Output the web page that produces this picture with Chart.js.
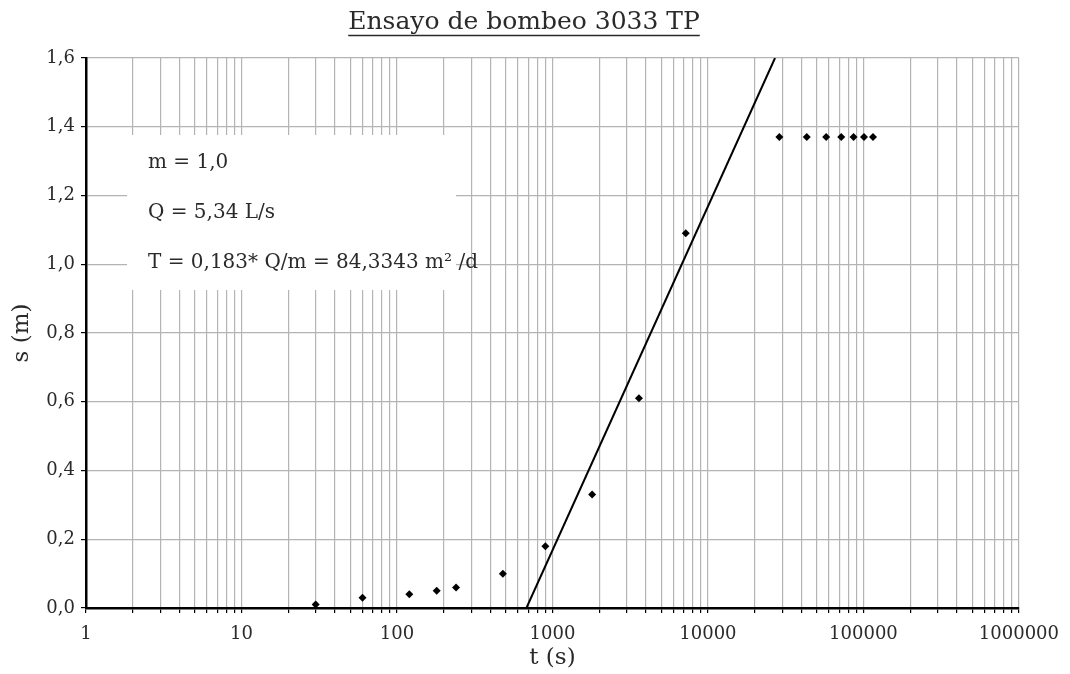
<!DOCTYPE html>
<html>
<head>
<meta charset="utf-8">
<script src="https://cdn.jsdelivr.net/npm/chart.js@4/dist/chart.umd.min.js"></script>
<style>
  body { margin: 0; background: #fff; }
  canvas { display: block; }
</style>
</head>
<body>
<canvas id="myChart" width="1070" height="674"></canvas>
<script>
// datos del ensayo (tiempo en s, descenso en m)
const tiempos = [30, 60, 120, 180, 240, 480, 900, 1800, 3600, 7200, 28800, 43200, 57600, 72000, 86400, 100800, 115200];
const descensos = [0.01, 0.03, 0.04, 0.05, 0.06, 0.10, 0.18, 0.33, 0.61, 1.09, 1.37, 1.37, 1.37, 1.37, 1.37, 1.37, 1.37];

// recta de ajuste (Jacob)
const rectaT = [680, 27000];
const rectaS = [0, 1.6];

// marcas del eje t: 1..9 por decada
const decadas = [1, 10, 100, 1000, 10000, 100000];
const multiplos = [1, 2, 3, 4, 5, 6, 7, 8, 9];
const etiquetasT = [1, 10, 100, 1000, 10000, 100000, 1000000];

const titulo = 'Ensayo de bombeo 3033 TP';
const notas = ['m = 1,0', 'Q = 5,34 L/s', 'T = 0,183* Q/m = 84,3343 m\u00B2 /d'];

const fuente = "'DejaVu Serif', 'Liberation Serif', serif";

var puntos = [];
for (var i = 0; i < tiempos.length; i++) {
  puntos.push({x: tiempos[i], y: descensos[i]});
}
var recta = [];
for (var j = 0; j < rectaT.length; j++) {
  recta.push({x: rectaT[j], y: rectaS[j]});
}
var marcasT = [];
decadas.forEach(function(d) {
  multiplos.forEach(function(m) { marcasT.push({value: d * m}); });
});
marcasT.push({value: 1000000});

// solo multiplos enteros de cada decada
function esMarca(v) {
  for (var k = 0; k < marcasT.length; k++) {
    if (Math.abs(marcasT[k].value - v) < 1e-6 * v) return true;
  }
  return false;
}

// titulo subrayado y cuadro de texto
const extras = {
  id: 'extras',
  beforeDatasetsDraw(chart) {
    const ctx = chart.ctx;
    const a = chart.chartArea;
    ctx.save();
    // cuadro blanco
    ctx.fillStyle = '#fff';
    ctx.fillRect(a.left + 41, a.top + 77, 329, 155);
    ctx.fillStyle = '#2a2a2a';
    ctx.font = '20px ' + fuente;
    ctx.textBaseline = 'middle';
    ctx.textAlign = 'left';
    for (var k = 0; k < notas.length; k++) {
      ctx.fillText(notas[k], a.left + 62, a.top + 105 + k * 50);
    }
    ctx.restore();
  },
  afterDraw(chart) {
    const ctx = chart.ctx;
    ctx.save();
    ctx.font = '25px ' + fuente;
    ctx.fillStyle = '#2a2a2a';
    ctx.textAlign = 'center';
    ctx.textBaseline = 'alphabetic';
    const cx = 524;
    ctx.fillText(titulo, cx, 29);
    const w = ctx.measureText(titulo).width;
    ctx.strokeStyle = '#2a2a2a';
    ctx.lineWidth = 1.4;
    ctx.beginPath();
    ctx.moveTo(cx - w / 2, 35.5);
    ctx.lineTo(cx + w / 2, 35.5);
    ctx.stroke();
    ctx.restore();
  }
};

var ctx = document.getElementById('myChart').getContext('2d');
var chart = new Chart(ctx, {
  type: 'scatter',
  data: {
    datasets: [
      {
        label: 'descenso',
        data: puntos,
        pointStyle: 'rectRot',
        pointRadius: 4,
        backgroundColor: '#000',
        borderColor: '#000',
        borderWidth: 0
      },
      {
        label: 'recta',
        data: recta,
        showLine: true,
        borderColor: '#000',
        borderWidth: 2,
        pointRadius: 0
      }
    ]
  },
  options: {
    responsive: false,
    animation: false,
    layout: { padding: { top: 58, right: 50, bottom: 0, left: 0 } },
    plugins: {
      legend: { display: false },
      tooltip: { enabled: false }
    },
    scales: {
      x: {
        type: 'logarithmic',
        min: 1,
        max: 1000000,
        afterFit: function(s) { s.height = 66; },
        afterBuildTicks: function(s) { s.ticks = marcasT.slice(); },
        border: { color: '#000', width: 2.5 },
        grid: {
          lineWidth: 1.2,
          tickLength: 5,
          color: function(c) { return c.tick && esMarca(c.tick.value) ? '#b4b4b4' : 'rgba(0,0,0,0)'; },
          tickColor: function(c) { return c.tick && esMarca(c.tick.value) ? '#000' : 'rgba(0,0,0,0)'; }
        },
        ticks: {
          autoSkip: false,
          maxRotation: 0,
          padding: 11,
          color: '#2a2a2a',
          font: { family: fuente, size: 18 },
          callback: function(v) {
            return etiquetasT.indexOf(v) >= 0 ? String(v) : '';
          }
        },
        title: {
          display: true,
          text: 't (s)',
          color: '#2a2a2a',
          font: { family: fuente, size: 23 },
          padding: { top: 0, bottom: 2 }
        }
      },
      y: {
        min: 0,
        max: 1.6,
        afterFit: function(s) { s.width = 86; },
        border: { color: '#000', width: 2.5 },
        grid: { color: '#b4b4b4', lineWidth: 1.2, tickColor: '#000', tickLength: 5 },
        ticks: {
          stepSize: 0.2,
          padding: 6,
          color: '#2a2a2a',
          font: { family: fuente, size: 18 },
          callback: function(v) { return v.toFixed(1).replace('.', ','); }
        },
        title: {
          display: true,
          text: 's (m)',
          color: '#2a2a2a',
          font: { family: fuente, size: 23 },
          padding: { top: 8, bottom: 0 }
        }
      }
    }
  },
  plugins: [extras]
});
</script>
</body>
</html>
